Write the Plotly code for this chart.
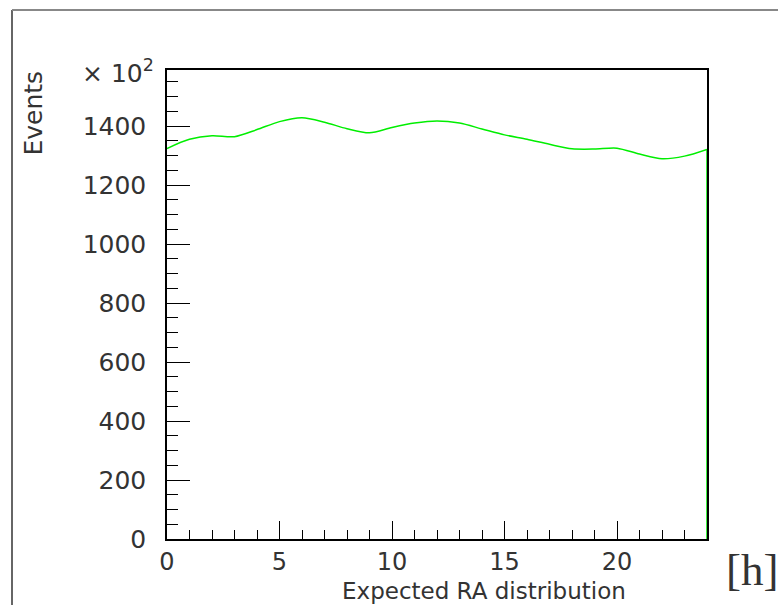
import plotly.graph_objects as go

# Expected right-ascension distribution (hours) - histogram contents
ra_hours = list(range(0, 25))
events = [1324, 1355, 1367, 1364, 1388, 1415, 1428, 1413, 1391, 1377,
          1395, 1410, 1417, 1410, 1390, 1370, 1355, 1338, 1323, 1322,
          1325, 1305, 1289, 1298, 1321]

y_ticks = [0, 200, 400, 600, 800, 1000, 1200, 1400]
x_ticks = [0, 5, 10, 15, 20]

W, H = 778, 605
L, R, T, B = 167, 71, 70, 66

green = "#00ee00"
font = "DejaVu Sans"
txt = "#333"

fig = go.Figure()
fig.add_trace(go.Scatter(x=ra_hours, y=events, mode="lines",
                         line=dict(color=green, width=1.5, shape="spline", smoothing=0.8),
                         hoverinfo="skip", showlegend=False))
# closing edge of the histogram down to zero
fig.add_trace(go.Scatter(x=[ra_hours[-1], ra_hours[-1]], y=[events[-1], 0], mode="lines",
                         line=dict(color=green, width=1.5),
                         hoverinfo="skip", showlegend=False))

fig.update_layout(
    width=W, height=H,
    margin=dict(l=L, r=R, t=T, b=B),
    paper_bgcolor="white", plot_bgcolor="white",
    font=dict(family=font, color=txt),
    xaxis=dict(range=[0, 24], tickvals=x_ticks, ticks="inside", ticklen=18, tickwidth=1,
               tickcolor="black", showline=True, linecolor="black", linewidth=1.5,
               mirror=True, showgrid=False, zeroline=False,
               tickfont=dict(size=24, family=font, color=txt), ticklabelstandoff=0,
               minor=dict(dtick=1, ticks="inside", ticklen=9, tickcolor="black", showgrid=False)),
    yaxis=dict(range=[0, 1590], tickvals=y_ticks, ticks="inside", ticklen=23, tickwidth=1,
               tickcolor="black", showline=True, linecolor="black", linewidth=1.5,
               mirror=True, showgrid=False, zeroline=False,
               tickfont=dict(size=25, family=font, color=txt), ticklabelstandoff=14,
               minor=dict(dtick=50, ticks="inside", ticklen=11, tickcolor="black", showgrid=False)),
)

def px_x(px):
    return (px - L) / (W - L - R)

def px_y(py):
    return (H - B - py) / (H - T - B)

# canvas border (left and top)
fig.add_shape(type="line", xref="paper", yref="paper",
              x0=px_x(12), x1=px_x(12), y0=px_y(10), y1=px_y(610),
              line=dict(color="#333", width=1.5))
fig.add_shape(type="line", xref="paper", yref="paper",
              x0=px_x(12), x1=px_x(780), y0=px_y(10), y1=px_y(10),
              line=dict(color="#888", width=2))

fig.add_annotation(text="Events", textangle=-90, xref="paper", yref="paper",
                   x=px_x(33), y=px_y(69), xanchor="center", yanchor="top",
                   showarrow=False, font=dict(size=25, family=font, color=txt))
fig.add_annotation(text="× 10<sup>2</sup>", xref="paper", yref="paper",
                   x=px_x(80), y=px_y(90), xanchor="left", yanchor="bottom",
                   showarrow=False, font=dict(size=25, family=font, color=txt))
fig.add_annotation(text="Expected RA distribution", xref="paper", yref="paper",
                   x=px_x(628), y=px_y(606), xanchor="right", yanchor="bottom",
                   showarrow=False, font=dict(size=23, family=font, color=txt))
fig.add_annotation(text="[h]", xref="paper", yref="paper",
                   x=px_x(724), y=px_y(543), xanchor="left", yanchor="top",
                   showarrow=False, font=dict(size=45, family="Liberation Serif", color=txt))

fig.write_html("out.html")
